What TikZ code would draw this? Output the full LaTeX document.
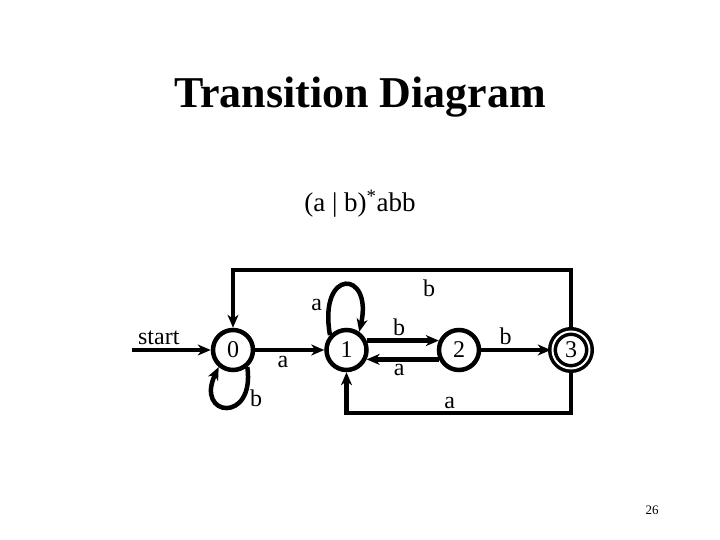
\documentclass[tikz,border=0pt]{standalone}
\usepackage{fontspec}
\setmainfont{Liberation Serif}
\usetikzlibrary{arrows.meta,positioning}
\tikzset{
  stnode/.style={circle, draw=black, line width=4.5pt, fill=white, minimum size=40pt,
                 inner sep=0pt, font=\fontsize{24}{26}\selectfont},
  acnode/.style={stnode, line width=3.5pt, double=white, double distance=2pt,
                 minimum size=37pt},
  ar/.style={-{Stealth[length=13pt,width=11pt,inset=4pt]}, line width=4.5pt},
  lbl/.style={font=\fontsize{24}{26}\selectfont, inner sep=2pt}
}
\begin{document}
\begin{tikzpicture}[
  x=1pt, y=1pt,
  ttl/.style={font=\fontsize{44}{48}\selectfont\bfseries},
  sub/.style={font=\fontsize{27}{30}\selectfont},
  pg/.style={font=\fontsize{13}{15}\selectfont}
]
\useasboundingbox (0,0) rectangle (720,540);
\node[ttl] (title) at (360,443) {Transition Diagram};
\node[sub] (re) at (360,336) {(a | b)\textsuperscript{*}abb};
\node[pg] (pno) at (652,30) {26};
% states
\node[stnode] (s0) at (233,190) {0};
\node[stnode, right=69pt of s0] (s1) {1};
\node[stnode, right=68pt of s1] (s2) {2};
\node[acnode, right=69.5pt of s2] (s3) {3};
\coordinate (st) at (132,190);
\coordinate (top) at (0,270);
\coordinate (bot) at (0,127);
% transitions
\draw[ar] (st) -- node[lbl, pos=0.34, above=1pt] {start} (s0);
\draw[ar] (s0) -- node[lbl, pos=0.4, below=2pt] {a} (s1);
\draw[ar] (s1.25) -- node[lbl, pos=0.45, above=1pt] {b} (s2.155);
\draw[ar] (s2.205) -- node[lbl, pos=0.55, below=1pt] {a} (s1.-25);
\draw[ar] (s2) -- node[lbl, pos=0.35, above=1pt] {b} (s3);
\draw[ar] (s3.north) |- node[lbl, pos=0.71, below=6pt] {b} (s0.north |- top) -- (s0.north);
\draw[ar] (s3.south) |- node[lbl, pos=0.77, above=0pt] {a} (s1.south |- bot) -- (s1.south);
\draw[ar] (s1.138) .. controls +(-12,68) and +(14,62) .. node[lbl, pos=0.18, left=3pt] {a} (s1.55);
\draw[ar] (s0.-50) .. controls +(8,-57) and +(-24,-50) .. node[lbl, pos=0.25, right=3pt] {b} (s0.-130);
\end{tikzpicture}
\end{document}
